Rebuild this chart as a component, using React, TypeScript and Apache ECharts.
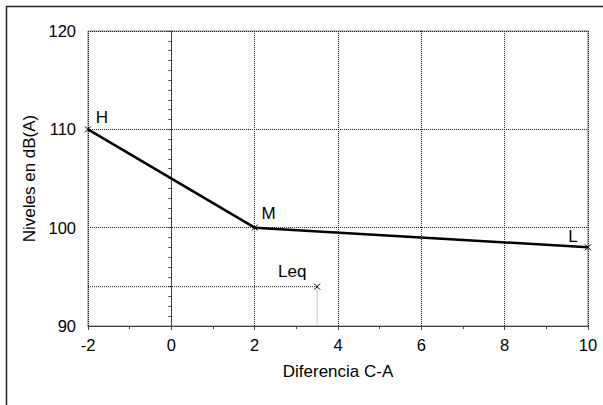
import React, { useEffect, useRef } from "react";
import * as echarts from "echarts";

const xTicks = [-2, 0, 2, 4, 6, 8, 10];
const yTicks = [90, 100, 110, 120];
const pointNames = ["H", "M", "L"];
const pointX = [-2, 2, 10];
const pointY = [110, 100, 98];
const leqName = "Leq";
const leqX = 3.5;
const leqY = 94;

const FONT = "Liberation Sans, Arial, Helvetica, sans-serif";
const CROSS = "path://M0,0L10,10M10,0L0,10";

export default function App() {
  const ref = useRef<HTMLDivElement>(null);
  useEffect(() => {
    if (!ref.current) return;
    const chart = echarts.init(ref.current, null, { renderer: "svg" });
    const labelOffsets: Record<string, [number, number]> = {
      H: [14, -12],
      M: [14, -14],
      L: [-15, -11],
    };
    const mainData = pointX.map((x, i) => ({
      value: [x, pointY[i]],
      name: pointNames[i],
      label: {
        show: true,
        formatter: pointNames[i],
        position: "inside",
        offset: labelOffsets[pointNames[i]],
        color: "#000",
        fontSize: 17,
        fontFamily: FONT,
      },
    }));
    const xMin = xTicks[0];
    const xMax = xTicks[xTicks.length - 1];
    const yMin = yTicks[0];
    const yMax = yTicks[yTicks.length - 1];
    chart.setOption({
      animation: false,
      backgroundColor: "#fff",
      textStyle: { fontFamily: FONT },
      grid: {
        left: 88,
        top: 31,
        right: 15,
        bottom: 79,
        show: true,
        borderColor: "#777",
        borderWidth: 1,
      },
      graphic: [
        {
          type: "rect",
          shape: { x: 6.5, y: 6.5, width: 700, height: 500 },
          style: { fill: "none", stroke: "#222", lineWidth: 1.5 },
          silent: true,
        },
      ],
      xAxis: {
        type: "value",
        min: xMin,
        max: xMax,
        interval: 2,
        name: "Diferencia C-A",
        nameLocation: "middle",
        nameGap: 37,
        nameTextStyle: { fontSize: 17, color: "#000", fontFamily: FONT },
        axisLine: { show: true, lineStyle: { color: "#444", width: 1 } },
        axisTick: { show: true, length: 4, lineStyle: { color: "#444" } },
        minorTick: { show: true, splitNumber: 2, length: 3, lineStyle: { color: "#444" } },
        axisLabel: {
          color: "#000",
          fontSize: 16.5,
          margin: 10,
          fontFamily: FONT,
          formatter: (v: number) => String(v),
        },
        splitLine: {
          show: true,
          interval: (i: number, v: any) => {
            const n = Number(v);
            return n !== xMin && n !== xMax;
          },
          lineStyle: { color: "#222", type: [1, 1], width: 1 },
        },
      },
      yAxis: {
        type: "value",
        min: yMin,
        max: yMax,
        interval: 10,
        name: "Niveles en dB(A)",
        nameLocation: "middle",
        nameGap: 50,
        nameTextStyle: { fontSize: 17, color: "#000", fontFamily: FONT },
        axisLine: { show: true, lineStyle: { color: "#444", width: 1 } },
        axisTick: { show: true, length: 4, lineStyle: { color: "#444" } },
        minorTick: { show: true, splitNumber: 10, length: 3, lineStyle: { color: "#444" } },
        axisLabel: { color: "#000", fontSize: 16.5, margin: 12, fontFamily: FONT },
        splitLine: {
          show: true,
          interval: (i: number, v: any) => {
            const n = Number(v);
            return n !== yMin && n !== yMax;
          },
          lineStyle: { color: "#222", type: [1, 1], width: 1 },
        },
      },
      series: [
        {
          type: "line",
          data: [
            [xMin, leqY],
            [leqX, leqY],
          ],
          symbol: "none",
          lineStyle: { color: "#222", width: 1, type: [1, 1] },
          silent: true,
          z: 3,
        },
        {
          type: "line",
          data: [
            [leqX, leqY],
            [leqX, yMin],
          ],
          symbol: "none",
          lineStyle: { color: "#999", width: 1, type: [1, 1] },
          silent: true,
          z: 3,
        },
        {
          type: "line",
          data: [
            {
              value: [leqX, leqY],
              label: {
                show: true,
                formatter: leqName,
                position: "inside",
                offset: [-25, -15],
                color: "#000",
                fontSize: 17,
                fontFamily: FONT,
              },
            },
          ],
          symbol: CROSS,
          symbolSize: 6,
          showSymbol: true,
          itemStyle: { color: "#000", borderColor: "#000", borderWidth: 1 },
          z: 4,
        },
        {
          type: "line",
          data: mainData,
          symbol: CROSS,
          symbolSize: 6,
          showSymbol: true,
          lineStyle: { color: "#000", width: 2.5 },
          itemStyle: { color: "#000", borderColor: "#000", borderWidth: 1 },
          z: 5,
        },
      ],
    });
    return () => chart.dispose();
  }, []);
  return (
    <div
      ref={ref}
      style={{ position: "fixed", left: 0, top: 0, width: 603, height: 405, background: "#fff" }}
    />
  );
}
